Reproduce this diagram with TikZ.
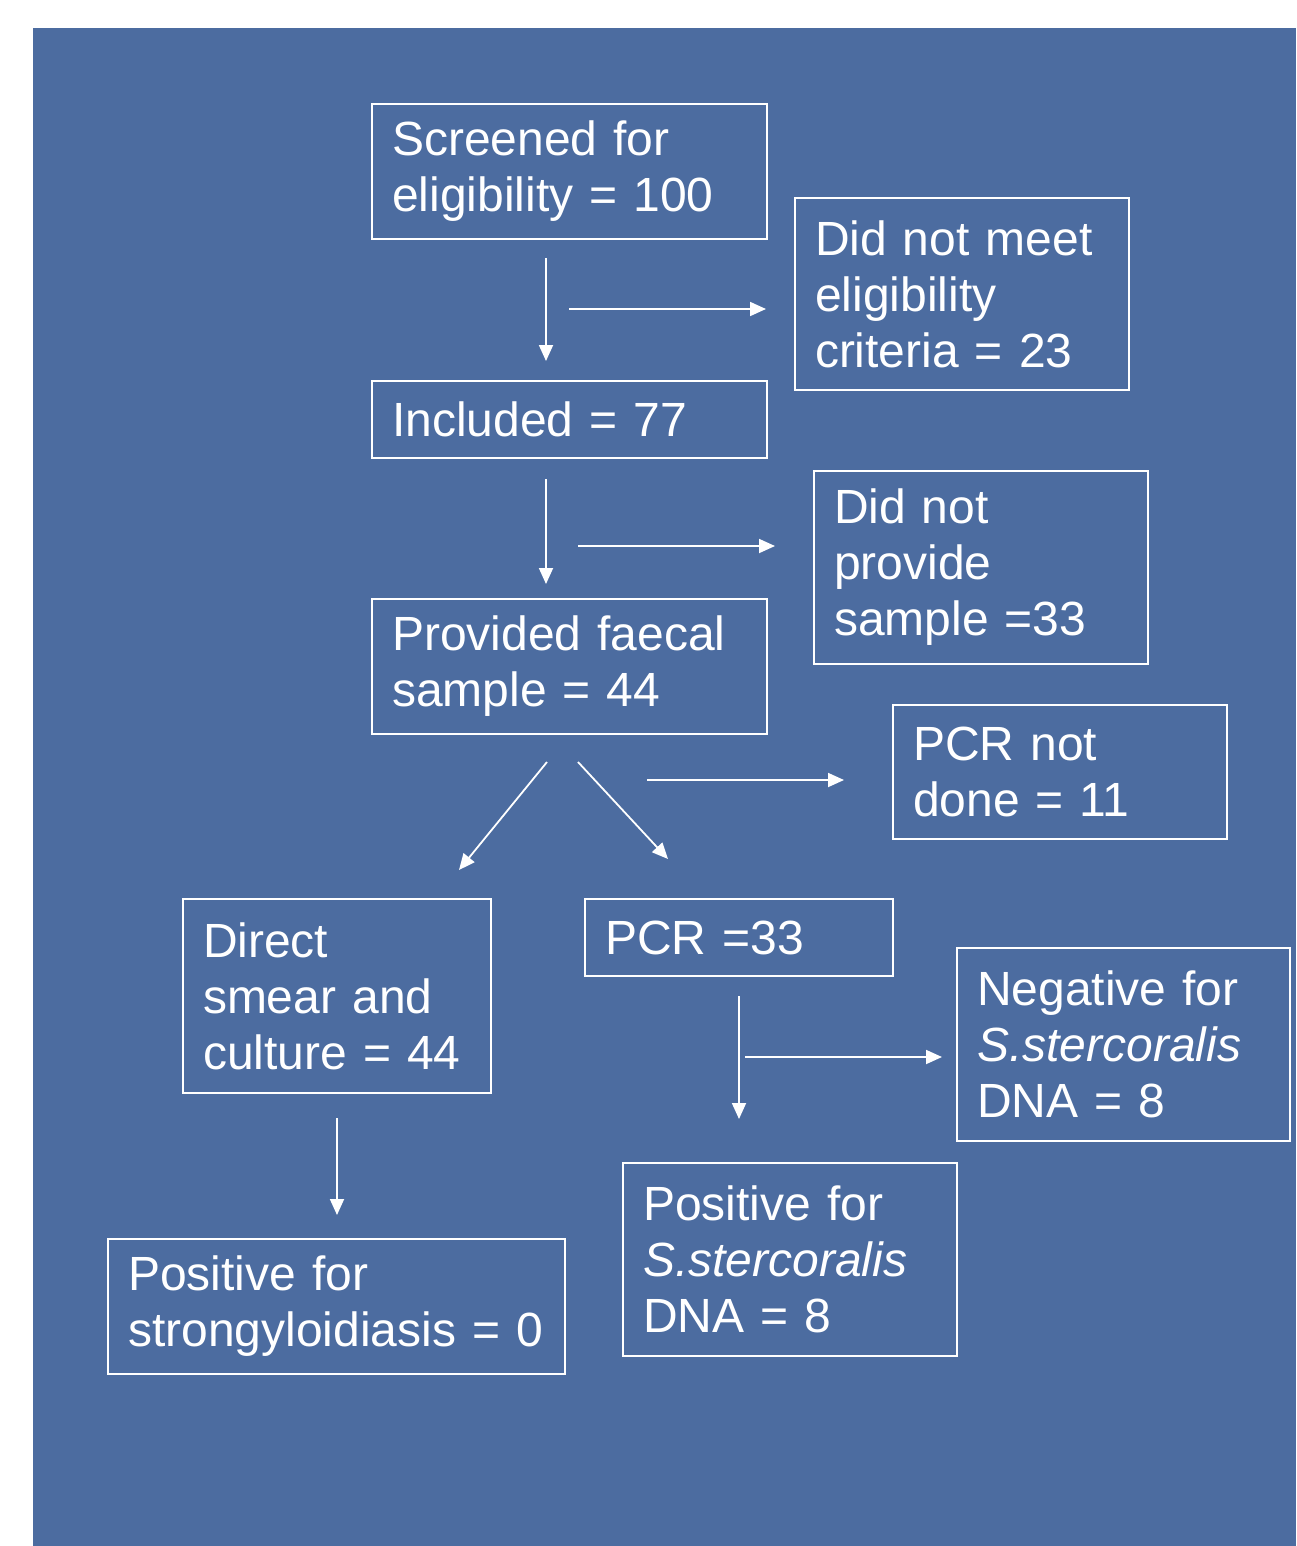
\documentclass[tikz,border=0pt]{standalone}
\usepackage{fontspec}
\setmainfont{Liberation Sans}
\usetikzlibrary{arrows.meta}
\definecolor{bgblue}{RGB}{76,108,160}
\tikzset{
  box/.style={draw=white, line width=1pt, anchor=north west, align=left,
    inner xsep=10pt, inner ysep=0pt, text=white,
    font=\fontsize{24}{28}\selectfont},
  arr/.style={draw=white, line width=0.9pt, -{Triangle[length=8pt,width=7pt]}}
}
\begin{document}
\begin{tikzpicture}[x=0.5pt,y=-0.5pt]
\useasboundingbox (0,0) rectangle (1296,1546);
\fill[bgblue] (33,28) rectangle (1296,1546);

\node[box, text width=177.5pt, minimum height=67.5pt] (screen) at (371,103)
  {Screened~for\\eligibility~=~100};
\node[box, text width=147pt, minimum height=96pt] (notmeet) at (794,197)
  {Did~not~meet\\eligibility\\criteria~=~23};
\node[box, text width=177.5pt, minimum height=38.5pt] (incl) at (371,380)
  {Included~=~77};
\node[box, text width=147pt, minimum height=96.5pt] (noprov) at (813,470)
  {Did~not\\provide\\sample~=33};
\node[box, text width=177.5pt, minimum height=67.5pt] (prov) at (371,598)
  {Provided~faecal\\sample~=~44};
\node[box, text width=147pt, minimum height=67pt] (pcrnd) at (892,704)
  {PCR~not\\done~=~11};
\node[box, text width=134pt, minimum height=97pt] (direct) at (182,898)
  {Direct\\smear~and\\culture~=~44};
\node[box, text width=134pt, minimum height=38.5pt] (pcr) at (584,898)
  {PCR~=33};
\node[box, text width=146.5pt, minimum height=96.5pt] (neg) at (956,947)
  {Negative~for\\\textit{S.stercoralis}\\DNA~=~8};
\node[box, text width=208.5pt, minimum height=67.5pt] (posst) at (107,1238)
  {Positive~for\\strongyloidiasis~=~0};
\node[box, text width=147pt, minimum height=96.5pt] (posss) at (622,1162)
  {Positive~for\\\textit{S.stercoralis}\\DNA~=~8};

\coordinate (a1s) at (546,258); \coordinate (a1e) at (546,361);
\coordinate (a2s) at (569,309); \coordinate (a2e) at (766,309);
\coordinate (a3s) at (546,479); \coordinate (a3e) at (546,584);
\coordinate (a4s) at (578,546); \coordinate (a4e) at (775,546);
\coordinate (a5s) at (547,762); \coordinate (a5e) at (459,870);
\coordinate (a6s) at (578,762); \coordinate (a6e) at (668,859);
\coordinate (a7s) at (647,780); \coordinate (a7e) at (844,780);
\coordinate (a8s) at (739,996); \coordinate (a8e) at (739,1119);
\coordinate (a9s) at (745,1057); \coordinate (a9e) at (942,1057);
\coordinate (a10s) at (337,1118); \coordinate (a10e) at (337,1215);

\draw[arr] (a1s) -- (a1e);
\draw[arr] (a2s) -- (a2e);
\draw[arr] (a3s) -- (a3e);
\draw[arr] (a4s) -- (a4e);
\draw[arr] (a5s) -- (a5e);
\draw[arr] (a6s) -- (a6e);
\draw[arr] (a7s) -- (a7e);
\draw[arr] (a8s) -- (a8e);
\draw[arr] (a9s) -- (a9e);
\draw[arr] (a10s) -- (a10e);
\end{tikzpicture}
\end{document}
